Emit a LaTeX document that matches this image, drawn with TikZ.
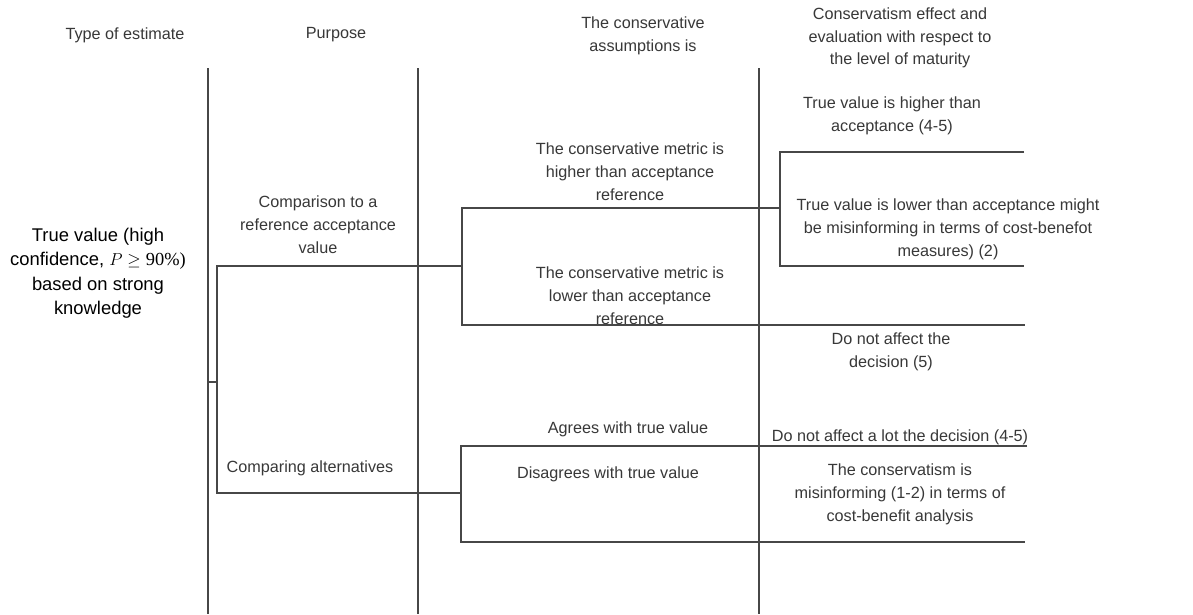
\documentclass[tikz,border=0pt]{standalone}
\usepackage{fontspec}
\setmainfont{Liberation Sans}
\newfontfamily\serifpart{Liberation Serif}
\begin{document}
\begin{tikzpicture}[x=1pt,y=-1pt,
  txt/.style={align=center,inner sep=0pt,text=black!78,font=\fontsize{16.2}{22.8}\selectfont},
  big/.style={align=center,inner sep=0pt,text=black,font=\fontsize{18.4}{24.5}\selectfont},
  ln/.style={draw=black!72,line width=1.6pt}]
\useasboundingbox[fill=white] (0,0) rectangle (1193,614);
% headers
\node[txt] (h1) at (125,35) {Type of estimate};
\node[txt] (h2) at (336,35) {Purpose};
\node[txt] (h3) at (643,36) {The conservative\\assumptions is};
\node[txt] (h4) at (900,38) {Conservatism effect and\\evaluation with respect to\\the level of maturity};
% texts
\node[big] (root) at (98,273) {True value (high\\confidence, $P \geq$ {\serifpart 90\%)}\\based on strong\\knowledge};
\node[txt] (comp) at (318,225) {Comparison to a\\reference acceptance\\value};
\node[txt] (compalt) at (310,468) {Comparing alternatives};
\node[txt] (higher) at (630,172) {The conservative metric is\\higher than acceptance\\reference};
\node[txt] (lower) at (630,296) {The conservative metric is\\lower than acceptance\\reference};
\node[txt] (agrees) at (628,429) {Agrees with true value};
\node[txt] (disagree) at (608,474) {Disagrees with true value};
\node[txt] (tvh) at (892,116) {True value is higher than\\acceptance (4-5)};
\node[txt] (tvl) at (948,229) {True value is lower than acceptance might\\be misinforming in terms of cost-benefot\\measures) (2)};
\node[txt] (dna) at (891,352) {Do not affect the\\decision (5)};
\node[txt] (dnal) at (900,437) {Do not affect a lot the decision (4-5)};
\node[txt] (misinf) at (900,494) {The conservatism is\\misinforming (1-2) in terms of\\cost-benefit analysis};
% column separators
\coordinate (v1t) at (208,68); \coordinate (v1b) at (208,614);
\coordinate (v2t) at (418,68); \coordinate (v2b) at (418,614);
\coordinate (v3t) at (759,68); \coordinate (v3b) at (759,614);
\draw[ln] (v1t) -- (v1b);
\draw[ln] (v2t) -- (v2b);
\draw[ln] (v3t) -- (v3b);
% bracket 1
\coordinate (b1a) at (217,266); \coordinate (b1b) at (217,493);
\draw[ln] (208,382) -- (217,382);
\draw[ln] (462,266) -- (b1a) -- (b1b) -- (461,493);
% bracket 2
\draw[ln] (780,208) -- (462,208) -- (462,325) -- (1025,325);
% bracket 3
\draw[ln] (1027,446) -- (461,446) -- (461,542) -- (1025,542);
% bracket 4
\draw[ln] (1024,152) -- (780,152) -- (780,266) -- (1024,266);
\end{tikzpicture}
\end{document}
